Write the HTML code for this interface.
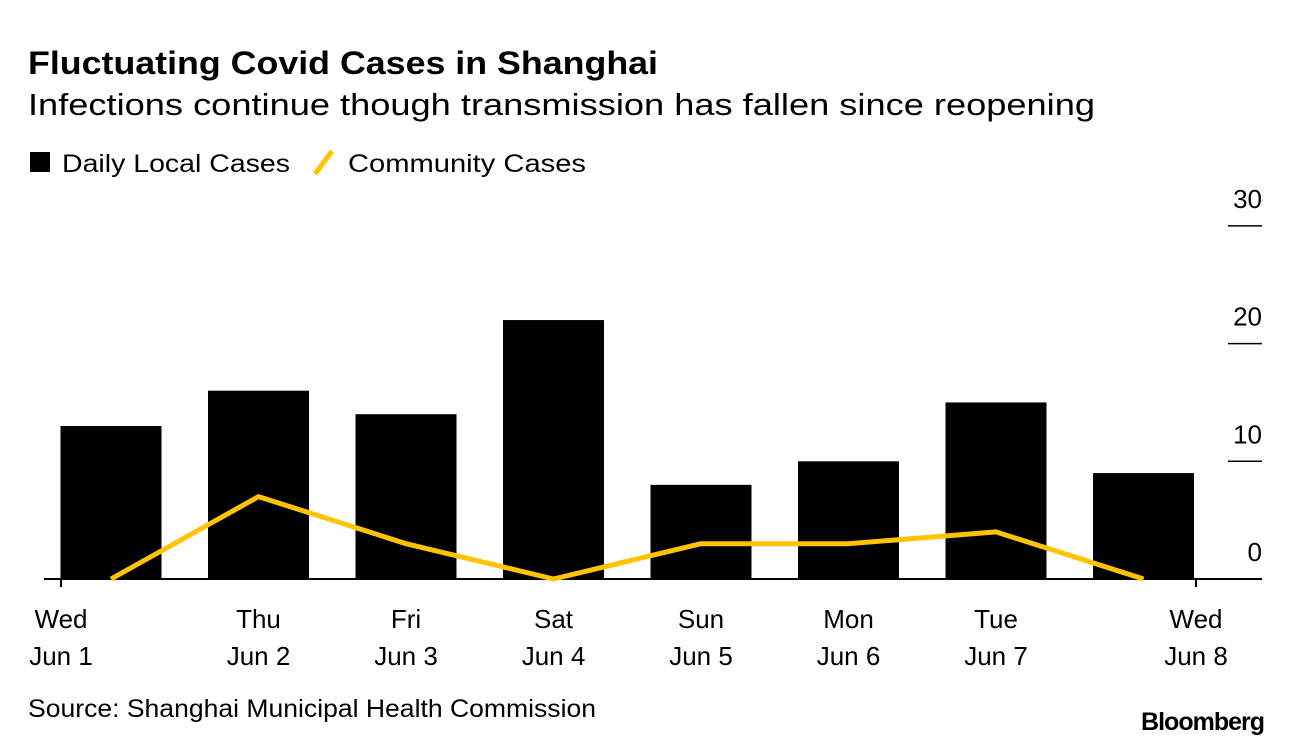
<!DOCTYPE html>
<html><head><meta charset="utf-8"><style>
body{margin:0;background:#fff;width:1292px;height:748px;overflow:hidden;font-family:"Liberation Sans",sans-serif;}
</style></head><body>
<svg width="1292" height="748">
<text x="28" y="74" font-size="32" font-weight="bold" textLength="630" lengthAdjust="spacingAndGlyphs">Fluctuating Covid Cases in Shanghai</text>
<text x="28" y="115" font-size="31" textLength="1067" lengthAdjust="spacingAndGlyphs">Infections continue though transmission has fallen since reopening</text>
<g>
<rect x="30" y="152" width="20" height="20" fill="#000"/>
<text x="62" y="172" font-size="25" textLength="228" lengthAdjust="spacingAndGlyphs">Daily Local Cases</text>
<line x1="315" y1="174" x2="332" y2="151" stroke="#ffc300" stroke-width="5"/>
<text x="348" y="172" font-size="25" textLength="238" lengthAdjust="spacingAndGlyphs">Community Cases</text>
</g>
<g id="plot"></g>
<text x="28" y="717" font-size="25" textLength="568" lengthAdjust="spacingAndGlyphs">Source: Shanghai Municipal Health Commission</text>
<text x="1264" y="730" font-size="25" font-weight="bold" text-anchor="end" letter-spacing="-1">Bloomberg</text>
</svg>
<script>
const days=["Wed","Thu","Fri","Sat","Sun","Mon","Tue","Wed"];
const dates=["Jun 1","Jun 2","Jun 3","Jun 4","Jun 5","Jun 6","Jun 7","Jun 8"];
const dailyCases=[13,16,14,22,8,10,15,9];
const communityCases=[0,7,3,0,3,3,4,0];
const yTicks=[0,10,20,30];
const NS="http://www.w3.org/2000/svg";
const g=document.getElementById('plot');
const y0=579,ppu=11.77;
function y(v){return y0-v*ppu;}
function xc(i){return 111+i*147.5;}
function mk(t,a){const e=document.createElementNS(NS,t);for(const k in a)e.setAttribute(k,a[k]);g.appendChild(e);return e;}
dailyCases.forEach((v,i)=>{
const r=mk('rect',{x:xc(i)-50.5,y:y(v),width:101,height:v*ppu,fill:'#000'});


});
const axis=mk('line',{x1:44,x2:1262,y1:y0,y2:y0,stroke:'#000','stroke-width':2});


const pl=mk('polyline',{points:communityCases.map((v,i)=>xc(i)+','+y(v)).join(' '),fill:'none',stroke:'#ffc300','stroke-width':5,'stroke-linejoin':'round'});


yTicks.forEach(v=>{
const t=mk('text',{x:1262,y:y(v)-18,'font-size':26,'text-anchor':'end'});t.textContent=v;


if(v>0){const l=mk('line',{x1:1228,x2:1262,y1:y(v),y2:y(v),stroke:'#000','stroke-width':1.5});

}
});
days.forEach((d,i)=>{
let x=xc(i); if(i==0)x=61; if(i==days.length-1)x=1196;
if(i==0||i==days.length-1){const tk=mk('line',{x1:x,x2:x,y1:y0,y2:y0+8,stroke:'#000','stroke-width':2});

}
const t1=mk('text',{x:x,y:628,'font-size':26,'text-anchor':'middle'});t1.textContent=d;


const t2=mk('text',{x:x,y:665,'font-size':26,'text-anchor':'middle'});t2.textContent=dates[i];


});
</script>
</body></html>
